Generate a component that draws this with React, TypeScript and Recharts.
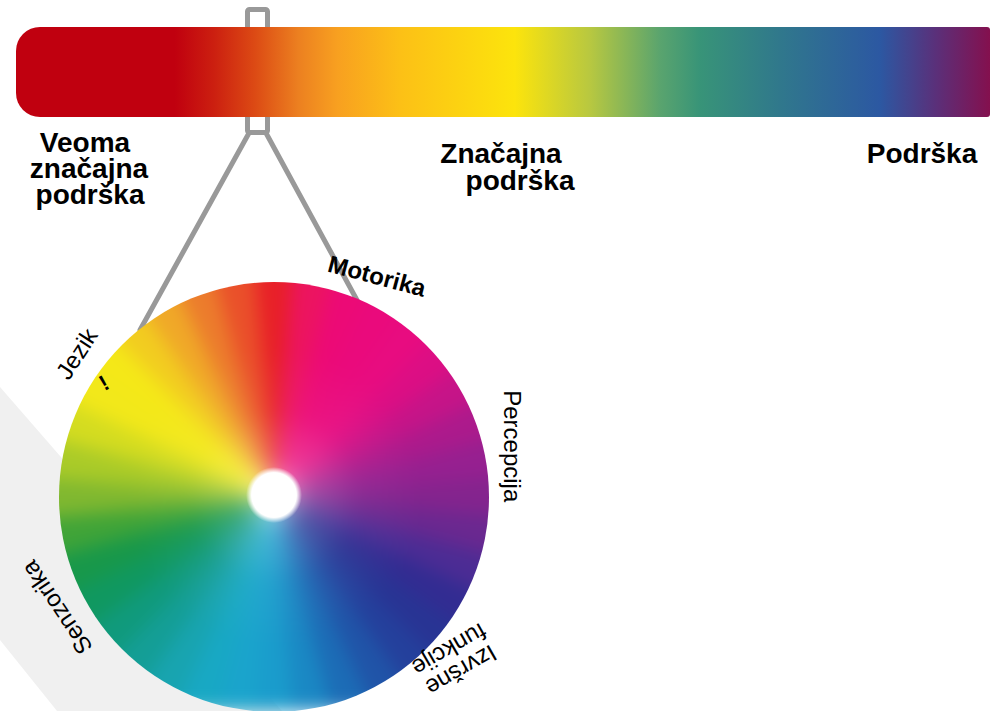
import { Bar, BarChart, Cell, Pie, PieChart, XAxis, YAxis } from "recharts";

const W = 991;
const H = 711;
const FONT = "'Liberation Sans', Arial, Helvetica, sans-serif";

// skala podrške (gornja traka)
const scaleRow = [{ name: "podrška", level: 100 }];
const scaleOffsets = [0, 0.163, 0.204, 0.245, 0.29, 0.33, 0.394, 0.512, 0.589, 0.661, 0.702, 0.784, 0.887, 0.944, 1];
const scaleColors = [
  "#c0000f", "#c0000f", "#cc2010", "#dc4a14", "#ec8020", "#f8a020", "#fcc016",
  "#fce40c", "#b8c840", "#5aa46e", "#389478", "#30788c", "#2c58a2", "#5a307a", "#84104e",
];
const scaleLeft = ["Veoma", "značajna", "podrška"];
const scaleMiddle = ["Značajna", "podrška"];
const scaleRight = ["Podrška"];

// kotač: boje u koracima od 10°, od vrha u smjeru kazaljke
const wheelHues = [
  "#e82028", "#ec1460", "#ec0a76", "#ea0a7c", "#e80c80", "#dc0e84", "#c61488", "#ac1a8c",
  "#962090", "#84248e", "#6a2890", "#4c2c94", "#322c92", "#283494", "#24409c", "#2054a8",
  "#1c6cb6", "#1a88c4", "#1a9ccc", "#1aa4cc", "#18a8c4", "#18a4b0", "#149e96", "#109a7c",
  "#109860", "#18984a", "#40a438", "#80b830", "#aacb28", "#d4dc20", "#f2e81a", "#f4e818",
  "#f2cc20", "#f0a828", "#ec7c2c", "#ea502a",
];
const domainNames = ["Motorika", "Percepcija", "Izvršne\nfunkcije", "", "Senzorika", "Jezik"];
const domainSpans = [50, 56, 52, 76, 18, 108];
const domainTilt = [15, 90, 150, 0, -124, -57];
const boldDomain = "Motorika";

const CX = 274;
const CY = 497;
const R = 215;
const LABEL_R = 244;

const BAR_LEFT = 16;
const BAR_TOP = 27;
const BAR_H = 90;

const wheelData = wheelHues.map((color, i) => ({ hue: i, share: 1, color }));
const domains = domainSpans.map((span, i) => ({ name: domainNames[i], span }));

function DomainLabel(props: any) {
  const { cx, cy, midAngle, index } = props;
  const name = domainNames[index];
  if (!name) return null;
  const rad = (-midAngle * Math.PI) / 180;
  const x = cx + LABEL_R * Math.cos(rad);
  const y = cy + LABEL_R * Math.sin(rad);
  const lines = name.split("\n");
  const lh = 24;
  return (
    <text
      transform={`rotate(${domainTilt[index]}, ${x}, ${y})`}
      textAnchor="middle"
      fontFamily={FONT}
      fontSize={24}
      fontWeight={name === boldDomain ? "bold" : "normal"}
      fill="#000"
    >
      {lines.map((ln, i) => (
        <tspan key={i} x={x} y={y + (i - (lines.length - 1) / 2) * lh} dominantBaseline="central">
          {ln}
        </tspan>
      ))}
    </text>
  );
}

const layer: React.CSSProperties = { position: "absolute", left: 0, top: 0 };

export default function App() {
  return (
    <div style={{ position: "absolute", left: 0, top: 0, width: W, height: H, background: "#fff", overflow: "hidden" }}>
      <div style={layer}>
        <BarChart
          width={W}
          height={H}
          data={scaleRow}
          layout="vertical"
          margin={{ top: BAR_TOP, right: W - 990, bottom: H - BAR_TOP - BAR_H, left: BAR_LEFT }}
          barCategoryGap={0}
        >
          <defs>
            <linearGradient id="scaleGrad" x1="0" y1="0" x2="1" y2="0">
              {scaleOffsets.map((o, i) => (
                <stop key={i} offset={o} stopColor={scaleColors[i]} />
              ))}
            </linearGradient>
          </defs>
          <polygon points="0,387 282,711 57,711 0,640" fill="#f0f0f0" />
          <XAxis type="number" domain={[0, 100]} hide />
          <YAxis type="category" dataKey="name" hide />
          <Bar dataKey="level" fill="url(#scaleGrad)" radius={[24, 3, 3, 24]} isAnimationActive={false} />
          <g stroke="#999" strokeWidth={5} fill="none" strokeLinecap="round">
            <rect x={247.5} y={9.5} width={20} height={123} rx={2} />
            <line x1={249} y1={133} x2={140} y2={330} />
            <line x1={266} y1={133} x2={358} y2={302} />
          </g>
          <g fontFamily={FONT} fontSize={28} fontWeight="bold" fill="#000">
            <text x={85} y={152} textAnchor="middle">{scaleLeft[0]}</text>
            <text x={89} y={178} textAnchor="middle">{scaleLeft[1]}</text>
            <text x={90} y={204} textAnchor="middle">{scaleLeft[2]}</text>
            <text x={501} y={163} textAnchor="middle">{scaleMiddle[0]}</text>
            <text x={520} y={190} textAnchor="middle">{scaleMiddle[1]}</text>
            <text x={922} y={163} textAnchor="middle">{scaleRight[0]}</text>
          </g>
        </BarChart>
      </div>
      <div style={{ ...layer, filter: "blur(9px)", clipPath: `circle(${R}px at ${CX}px ${CY}px)` }}>
        <PieChart width={W} height={H} margin={{ top: 0, right: 0, bottom: 0, left: 0 }}>
          <defs>
            <radialGradient id="glow" cx="0.5" cy="0.5" r="0.5">
              <stop offset={0} stopColor="#fff" stopOpacity={0.7} />
              <stop offset={0.15} stopColor="#fff" stopOpacity={0.2} />
              <stop offset={0.35} stopColor="#fff" stopOpacity={0.04} />
              <stop offset={0.6} stopColor="#fff" stopOpacity={0} />
            </radialGradient>
          </defs>
          <Pie
            data={wheelData}
            dataKey="share"
            cx={CX}
            cy={CY}
            outerRadius={R + 30}
            startAngle={95}
            endAngle={-265}
            isAnimationActive={false}
          >
            {wheelData.map((d) => (
              <Cell key={d.hue} fill={d.color} stroke={d.color} strokeWidth={1} />
            ))}
          </Pie>
          <Pie
            data={[{ share: 1 }]}
            dataKey="share"
            cx={CX}
            cy={CY}
            outerRadius={R + 30}
            fill="url(#glow)"
            stroke="none"
            isAnimationActive={false}
          />
        </PieChart>
      </div>
      <div style={layer}>
        <PieChart width={W} height={H} margin={{ top: 0, right: 0, bottom: 0, left: 0 }}>
          <defs>
            <radialGradient id="hole" cx="0.5" cy="0.5" r="0.5">
              <stop offset={0} stopColor="#fff" stopOpacity={1} />
              <stop offset={0.8} stopColor="#fff" stopOpacity={1} />
              <stop offset={1} stopColor="#fff" stopOpacity={0} />
            </radialGradient>
          </defs>
          <Pie
            data={[{ share: 1 }]}
            dataKey="share"
            cx={CX}
            cy={CY - 2}
            outerRadius={28}
            fill="url(#hole)"
            stroke="none"
            isAnimationActive={false}
          />
          <Pie
            data={domains}
            dataKey="span"
            cx={CX}
            cy={CY}
            outerRadius={R}
            startAngle={90}
            endAngle={-270}
            fill="transparent"
            stroke="none"
            label={DomainLabel}
            labelLine={false}
            isAnimationActive={false}
          />
          <text
            x={104}
            y={383}
            transform="rotate(-30, 104, 383)"
            textAnchor="middle"
            dominantBaseline="central"
            fontFamily={FONT}
            fontSize={22}
            fontWeight="bold"
          >
            !
          </text>
        </PieChart>
      </div>
    </div>
  );
}
